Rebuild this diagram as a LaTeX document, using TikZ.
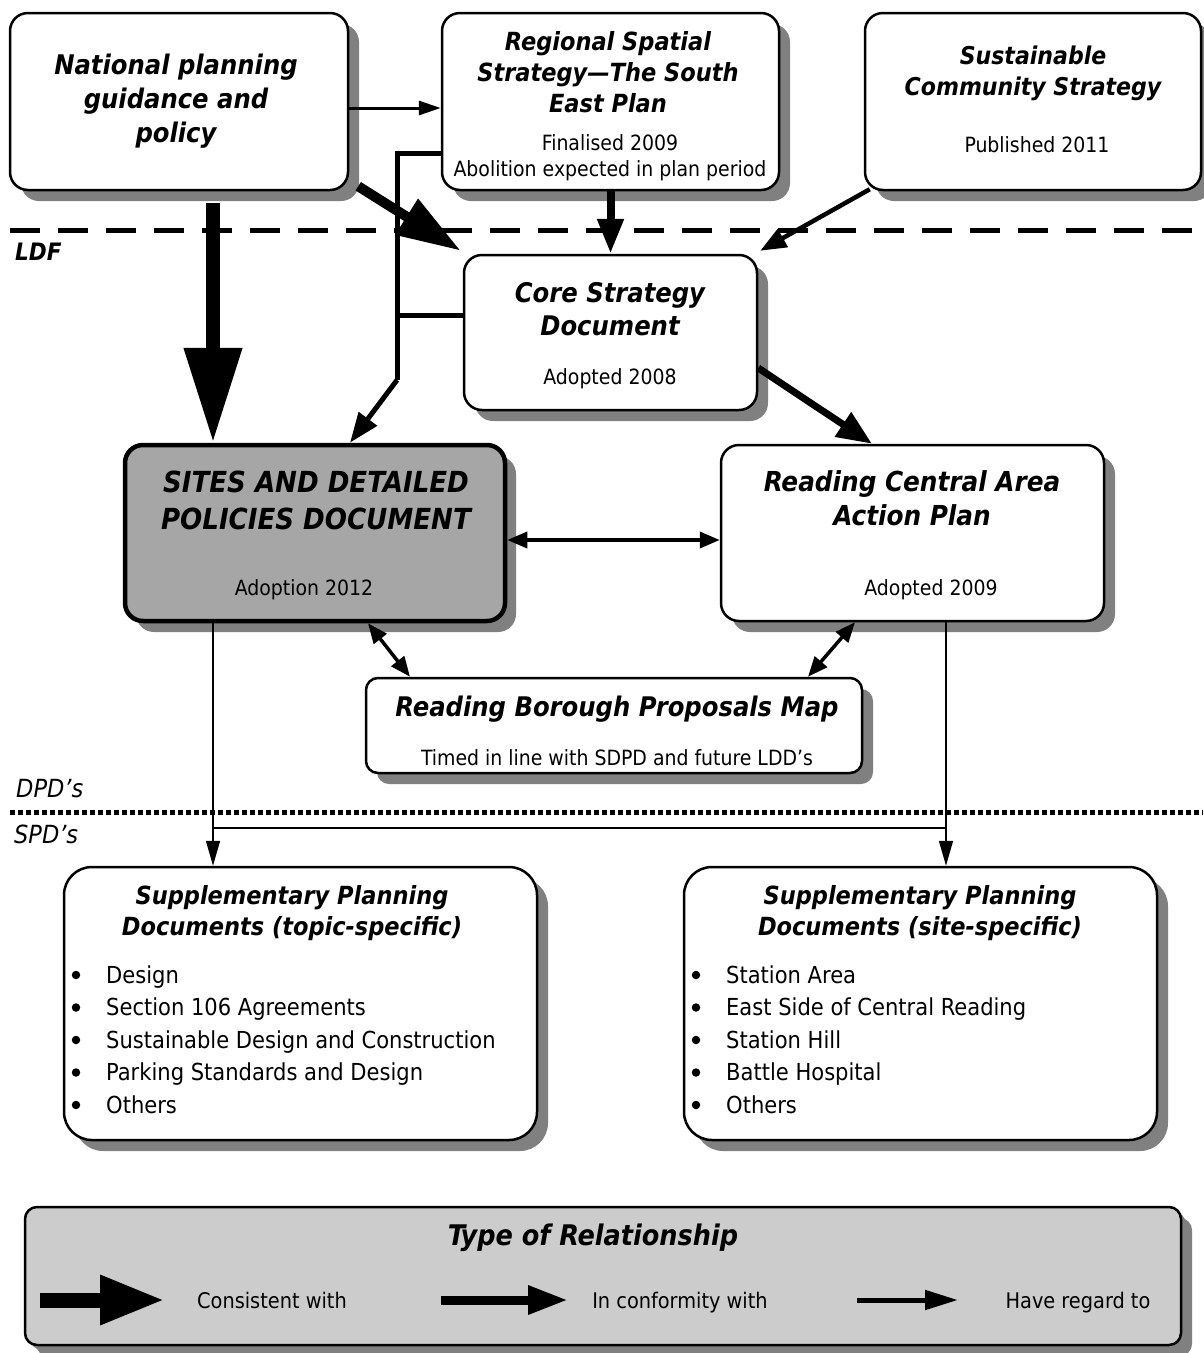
\documentclass[tikz,border=0pt]{standalone}
\usepackage{fontspec}
\setmainfont{DejaVu Sans Condensed}[BoldFont={DejaVu Sans Condensed Bold}, ItalicFont={DejaVu Sans Condensed Oblique}, BoldItalicFont={DejaVu Sans Condensed Bold Oblique}]
\usetikzlibrary{arrows.meta,shadows}
\definecolor{shd}{RGB}{128,128,128}
\definecolor{sitesfill}{RGB}{166,166,166}
\definecolor{legfill}{RGB}{204,204,204}
\newcommand\ttlfont{\fontsize{25}{31}\selectfont\bfseries\itshape}
\newcommand\bodyfont{\fontsize{21}{26}\selectfont}
\newcommand\itemfont{\fontsize{23.4}{28}\selectfont}
\tikzset{
  box/.style={draw, line width=2.5pt, rounded corners=18pt, fill=white, inner sep=0pt,
    general shadow={fill=shd, shadow xshift=11pt, shadow yshift=-11pt}},
  ttl/.style={font=\ttlfont, align=center, inner sep=0pt},
  body/.style={font=\bodyfont, align=center, inner sep=0pt},
  item/.style={font=\itemfont, anchor=base west, inner sep=0pt},
  bul/.style={circle, fill, inner sep=0pt, minimum size=8.5pt},
  thinarr/.style={line width=1.5pt, -{Triangle[length=25pt,width=14pt]}},
  dbl/.style={line width=3.5pt, {Triangle[length=20pt,width=16pt]}-{Triangle[length=20pt,width=16pt]}},
}
\begin{document}
\begin{tikzpicture}[x=1pt,y=-1pt]
\useasboundingbox (0,0) rectangle (1203,1353);
\fill[white] (0,0) rectangle (1203,1353);

% separators
\draw[line width=5pt, dash pattern=on 30pt off 18pt] (10,230) -- (1203,230);
\draw[line width=5pt, dash pattern=on 5pt off 3pt] (10,812) -- (1203,812);
\node[ttl, font=\fontsize{24}{28}\selectfont\bfseries\itshape, anchor=west] (ldf) at (15,252) {LDF};
\node[body, font=\fontsize{25}{28}\selectfont\itshape, anchor=west] (dpd) at (16,789) {DPD’s};
\node[body, font=\fontsize{25}{28}\selectfont\itshape, anchor=west] (spd) at (14,834) {SPD’s};

% boxes
\node[box, minimum width=338pt, minimum height=177pt] (nat) at (179,101.5) {};
\node[box, minimum width=337pt, minimum height=177pt] (reg) at (610.5,101.5) {};
\node[box, minimum width=336pt, minimum height=177pt] (sus) at (1033,101.5) {};
\node[box, minimum width=293pt, minimum height=155pt] (core) at (610.5,332.5) {};
\node[box, line width=4.5pt, fill=sitesfill, minimum width=380pt, minimum height=176pt] (sites) at (315,533) {};
\node[box, minimum width=383pt, minimum height=176pt] (rcaap) at (912.5,533) {};
\node[box, minimum width=496pt, minimum height=95pt, rounded corners=12pt] (map) at (614,725.5) {};
\node[box, minimum width=473pt, minimum height=273pt, rounded corners=28pt] (spdA) at (300.5,1003.5) {};
\node[box, minimum width=473pt, minimum height=273pt, rounded corners=28pt] (spdB) at (920.5,1003.5) {};
\node[box, fill=legfill, minimum width=1156pt, minimum height=138pt, rounded corners=12pt,
  general shadow={fill=shd, shadow xshift=5pt, shadow yshift=-5pt}] (leg) at (603,1276) {};

% texts
\node[ttl, font=\fontsize{27}{34}\selectfont\bfseries\itshape] (natT) at (176,101) {National planning\\guidance and\\policy};
\node[ttl] (regT) at (608,72) {Regional Spatial\\Strategy—The South\\East Plan};
\node[body] (regS) at (610,158) {Finalised 2009\\Abolition expected in plan period};
\node[ttl, font=\fontsize{24.5}{31}\selectfont\bfseries\itshape] (susT) at (1033,73) {Sustainable\\Community Strategy};
\node[body] (susS) at (1037,145) {Published 2011};
\node[ttl, font=\fontsize{27}{33}\selectfont\bfseries\itshape] (coreT) at (610,309) {Core Strategy\\Document};
\node[body] (coreS) at (610,379) {Adopted 2008};
\node[ttl, font=\fontsize{29}{37}\selectfont\bfseries\itshape] (sitesT) at (316,500) {SITES AND DETAILED\\POLICIES DOCUMENT};
\node[body] (sitesS) at (304,590) {Adoption 2012};
\node[ttl, font=\fontsize{27.5}{34}\selectfont\bfseries\itshape] (rcaapT) at (912,498) {Reading Central Area\\Action Plan};
\node[body] (rcaapS) at (931,590) {Adopted 2009};
\node[ttl, font=\fontsize{27}{34}\selectfont\bfseries\itshape] (mapT) at (617,709) {Reading Borough Proposals Map};
\node[body] (mapS) at (617,758) {Timed in line with SDPD and future LDD’s};
\node[ttl, font=\fontsize{25}{31}\selectfont\bfseries\itshape] (spdAT) at (292,913) {Supplementary Planning\\Documents (topic-specific)};
\node[ttl, font=\fontsize{25}{31}\selectfont\bfseries\itshape] (spdBT) at (920,913) {Supplementary Planning\\Documents (site-specific)};
\foreach \t [count=\i] in {Design, Section 106 Agreements, Sustainable Design and Construction, Parking Standards and Design, Others}{
  \node[item] (a\i) at (106,950.5+32.5*\i) {\t};
  \node[bul] (ab\i) at (76,942.5+32.5*\i) {};
}
\foreach \t [count=\i] in {Station Area, East Side of Central Reading, Station Hill, Battle Hospital, Others}{
  \node[item] (b\i) at (726,950.5+32.5*\i) {\t};
  \node[bul] (bb\i) at (696,942.5+32.5*\i) {};
}
\node[ttl, font=\fontsize{28.4}{34}\selectfont\bfseries\itshape] (legT) at (593,1238) {Type of Relationship};
\node[body, font=\fontsize{21.5}{26}\selectfont, anchor=base] (l1) at (272,1308) {Consistent with};
\node[body, font=\fontsize{21.5}{26}\selectfont, anchor=base] (l2) at (680,1308) {In conformity with};
\node[body, font=\fontsize{21.5}{26}\selectfont, anchor=base] (l3) at (1078,1308) {Have regard to};

% legend arrows
\coordinate (la1) at (40,1300); \coordinate (lb1) at (165,1300);
\coordinate (la2) at (441,1300); \coordinate (lb2) at (568,1300);
\coordinate (la3) at (857,1300); \coordinate (lb3) at (958,1300);
\draw[line width=15pt, -{Triangle[length=65pt,width=46pt]}] (la1) -- (lb1);
\draw[line width=9pt, -{Triangle[length=40pt,width=27pt]}] (la2) -- (lb2);
\draw[line width=5pt, -{Triangle[length=33pt,width=19pt]}] (la3) -- (lb3);

% connectors
\coordinate (cL) at (213,828);
\coordinate (cR) at (946,828);
\coordinate (bx) at (397,380);
\draw[line width=14pt, -{Triangle[length=95pt,width=55pt]}] ([yshift=-12pt]nat.south -| cL) -- (sites.north -| cL);
\draw[line width=10pt, -{Triangle[length=64pt,width=40pt]}] ([shift={(9pt,5pt)}]nat.south east) -- ([shift={(-2pt,3pt)}]core.north west);
\draw[line width=3pt, -{Triangle[length=22pt,width=14pt]}] (nat.east |- 0,108) -- (reg.west |- 0,108);
\draw[line width=8pt, -{Triangle[length=35pt,width=25pt]}] (reg.south -| core.north) -- (core.north);
\draw[line width=4.5pt, -{Triangle[length=26pt,width=20pt]}] ([shift={(6pt,2pt)}]sus.south west) -- ([shift={(2pt,3pt)}]core.north east);
\draw[line width=5pt] (reg.west |- 0,153) -| (bx);
\draw[line width=5pt] (core.west |- 0,315) -- (bx |- 0,315);
\draw[line width=5pt, -{Triangle[length=30pt,width=22pt]}] (bx) -- (sites.north -| 350,0);
\draw[line width=7pt, -{Triangle[length=35pt,width=28pt]}] (core.east |- 0,368) -- (rcaap.north -| 872,0);
\draw[dbl] (sites.east |- 0,540) -- (rcaap.west |- 0,540);
\draw[dbl] (sites.south -| 368,0) -- (map.north -| 410,0);
\draw[dbl] (rcaap.south -| 855,0) -- (map.north -| 808,0);
\draw[thinarr] (sites.south -| cL) -- (spdA.north -| cL);
\draw[thinarr] (rcaap.south -| cR) -- (spdB.north -| cR);
\draw[line width=1.5pt] (cL) -- (cR);
\end{tikzpicture}
\end{document}
